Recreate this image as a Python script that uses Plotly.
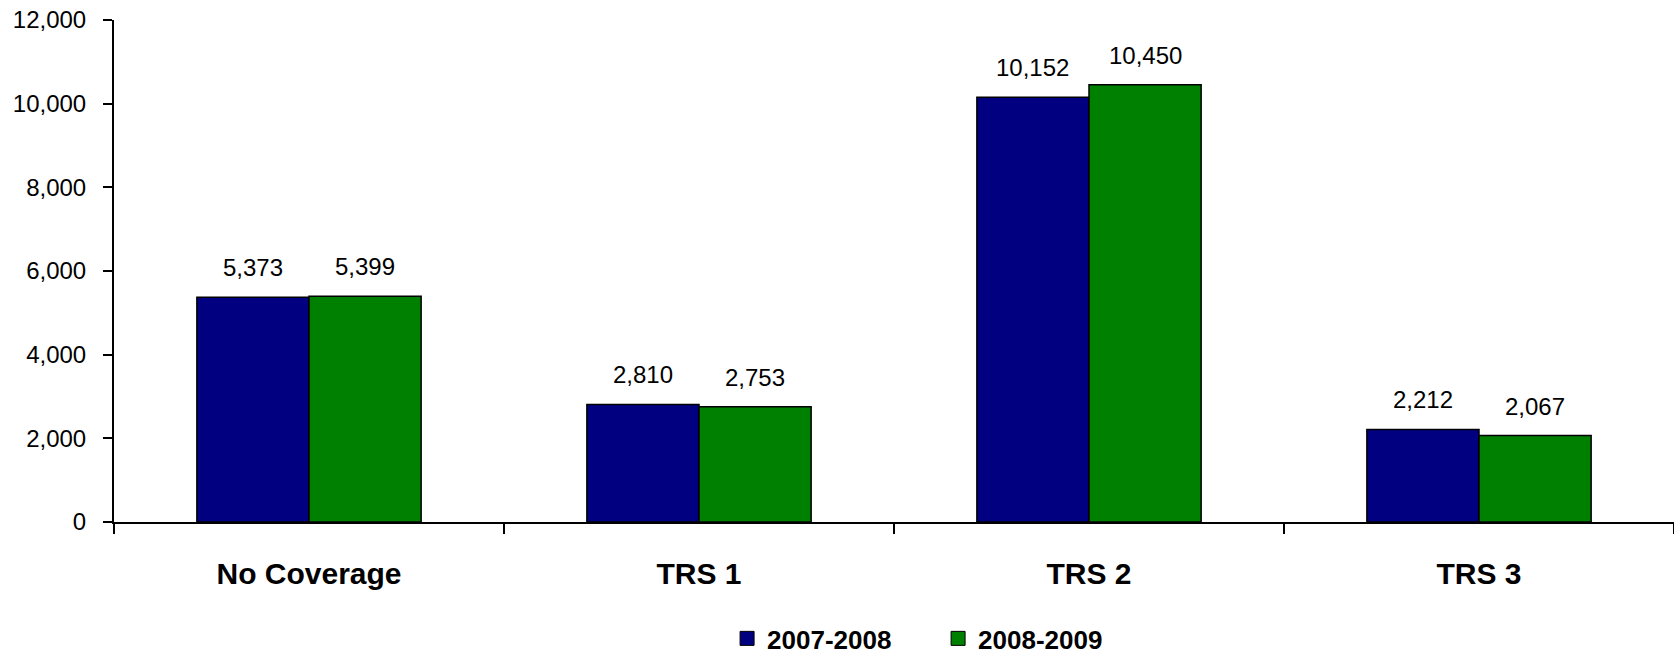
import plotly.graph_objects as go

categories = ["No Coverage", "TRS 1", "TRS 2", "TRS 3"]
series_names = ["2007-2008", "2008-2009"]
values_2007_2008 = [5373, 2810, 10152, 2212]
values_2008_2009 = [5399, 2753, 10450, 2067]
colors = ["#000080", "#008000"]
y_ticks = [0, 2000, 4000, 6000, 8000, 10000, 12000]

FONT = "Liberation Sans, Arial, sans-serif"
BARGAP = 0.425

fig = go.Figure()
all_values = [values_2007_2008, values_2008_2009]
for name, vals, col in zip(series_names, all_values, colors):
    fig.add_trace(go.Bar(
        x=categories, y=vals, name=name, showlegend=False,
        marker=dict(color=col, line=dict(color="black", width=1.5)),
    ))
# legend entries with square swatches
for name, col in zip(series_names, colors):
    fig.add_trace(go.Scatter(
        x=[None], y=[None], mode="markers", name=name,
        marker=dict(symbol="square", size=14, color=col,
                    line=dict(color="black", width=1)),
    ))

# value labels above bars, positioned in data coordinates
bar_w = (1 - BARGAP) / len(all_values)
for j, vals in enumerate(all_values):
    for i, v in enumerate(vals):
        fig.add_annotation(
            x=i + (j - (len(all_values) - 1) / 2) * bar_w, y=v,
            xref="x", yref="y", text=f"{v:,}", showarrow=False,
            yanchor="bottom", yshift=14,
            font=dict(family=FONT, size=24, color="black"),
        )

fig.update_layout(
    width=1674, height=656,
    margin=dict(l=114, r=0, t=20, b=134, autoexpand=False),
    paper_bgcolor="white", plot_bgcolor="white",
    barmode="group", bargap=BARGAP, bargroupgap=0,
    font=dict(family=FONT, color="black"),
    showlegend=True,
    legend=dict(
        orientation="h", x=0.393, xanchor="left", y=-0.232, yanchor="middle",
        font=dict(family=FONT, size=26, color="black", weight="bold"),
        entrywidth=166,
    ),
    xaxis=dict(
        type="category", tickson="boundaries", ticks="outside", ticklen=10,
        tickwidth=2, tickcolor="black", showline=True, linecolor="black",
        linewidth=2, showgrid=False, ticklabelstandoff=24,
        tickfont=dict(family=FONT, size=30, color="black", weight="bold"),
        range=[-0.5, 3.5],
    ),
    yaxis=dict(
        range=[0, 12000], tickvals=y_ticks, tickformat=",", ticks="outside",
        ticklen=9, tickwidth=2, tickcolor="black", showline=True,
        linecolor="black", linewidth=2, showgrid=False, zeroline=False,
        ticklabelstandoff=12, ticklabeloverflow="allow",
        tickfont=dict(family=FONT, size=24, color="black"),
    ),
)

fig.write_html(
    "out.html",
    config={"displayModeBar": False},
    post_script="document.body.style.margin='0';document.body.style.overflow='hidden';",
)
